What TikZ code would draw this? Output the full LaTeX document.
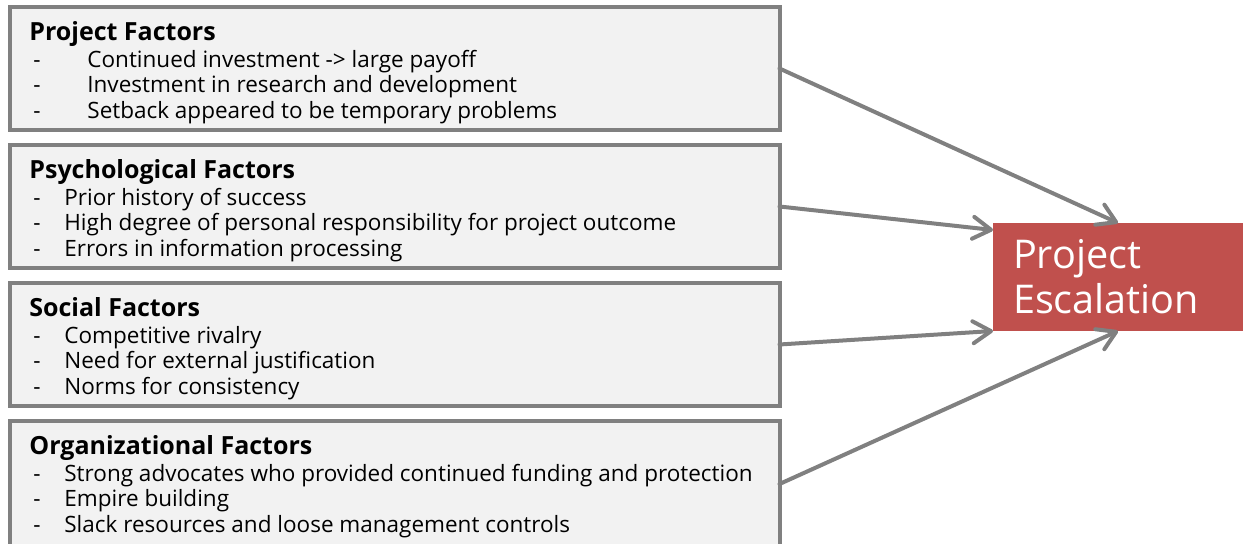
\documentclass[tikz,border=0pt]{standalone}
\usepackage{fontspec}
\setmainfont{Open Sans}
\usepackage{xcolor}
\usetikzlibrary{arrows.meta}

\definecolor{boxgray}{HTML}{808080}
\definecolor{boxfill}{HTML}{F2F2F2}
\definecolor{escred}{HTML}{C0504D}

\newcommand{\dashitem}[2][15.5pt]{\hspace*{2pt}\makebox[#1][l]{-}#2}

\tikzset{
  factorbox/.style={draw=boxgray, fill=boxfill, line width=2pt, anchor=north west,
    minimum width=385pt, minimum height=61.5pt, inner sep=0pt, outer sep=0pt},
  factortext/.style={anchor=north west, align=left, inner sep=0pt,
    font=\fontsize{11.25}{12.75}\selectfont},
  escbox/.style={fill=escred, text=white, anchor=north west, align=left,
    minimum width=125pt, minimum height=54pt, text width=105pt, inner xsep=10pt,
    outer sep=0pt, font=\fontsize{19.8}{22.5}\selectfont},
  feeds/.style={draw=boxgray, line width=2pt, line cap=round,
    -{Straight Barb[length=9pt,width=11pt,round]}}
}

\newcommand{\boxtitle}[1]{{\fontsize{12.5}{13}\selectfont\bfseries #1}}

\begin{document}
\begin{tikzpicture}[x=0.5pt,y=-0.5pt]
\useasboundingbox (0,0) rectangle (1243,544);

% factor boxes
\node[factorbox] (proj) at (9.5,7) {};
\node[factortext] (projtxt) at (29,21) {\boxtitle{Project Factors}\\[0.75pt]
  \dashitem[27pt]{Continued investment -> large payoff}\\
  \dashitem[27pt]{Investment in research and development}\\
  \dashitem[27pt]{Setback appeared to be temporary problems}};

\node[factorbox] (psych) at (9.5,145) {};
\node[factortext] (psychtxt) at (29,159) {\boxtitle{Psychological Factors}\\[0.75pt]
  \dashitem{Prior history of success}\\
  \dashitem{High degree of personal responsibility for project outcome}\\
  \dashitem{Errors in information processing}};

\node[factorbox] (soc) at (9.5,283) {};
\node[factortext] (soctxt) at (29,297) {\boxtitle{Social Factors}\\[0.75pt]
  \dashitem{Competitive rivalry}\\
  \dashitem{Need for external justification}\\
  \dashitem{Norms for consistency}};

\node[factorbox, minimum height=63pt] (org) at (9.5,421) {};
\node[factortext] (orgtxt) at (29,435) {\boxtitle{Organizational Factors}\\[0.75pt]
  \dashitem{Strong advocates who provided continued funding and protection}\\
  \dashitem{Empire building}\\
  \dashitem{Slack resources and loose management controls}};

% outcome
\node[escbox] (esc) at (993,223) {Project\\Escalation};
\coordinate (escw) at ([yshift=-3.5pt]esc.north west);

% arrows
\draw[feeds] (proj.east) -- (esc.north);
\draw[feeds] (psych.east) -- (escw);
\draw[feeds] (soc.east) -- (esc.south west);
\draw[feeds] (org.east) -- (esc.south);
\end{tikzpicture}
\end{document}
